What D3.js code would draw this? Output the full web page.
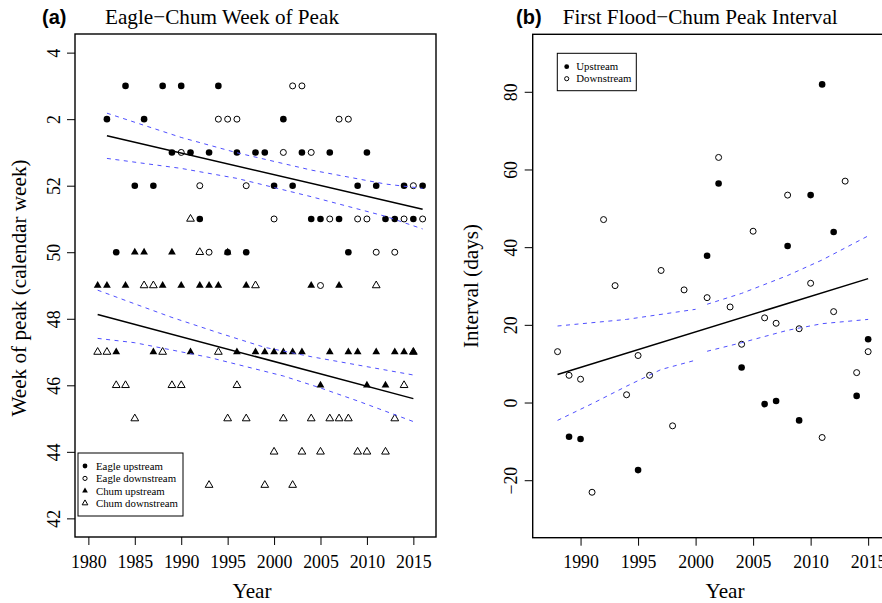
<!DOCTYPE html>
<html>
<head>
<meta charset="utf-8">
<script src="https://cdn.jsdelivr.net/npm/d3@7"></script>
<style>
  body { margin: 0; background: #fff; }
  svg { display: block; }
</style>
</head>
<body>
<div id="chart"></div>
<script>
// (a) week of peak, weeks after 52 run on as 53, 54, 55 (= week 1, 2, 3 of next year)
const eagleUpstream = [
  [1982,54],[1983,50],[1984,55],[1985,52],[1986,54],[1987,52],[1988,55],[1989,53],
  [1990,55],[1991,53],[1992,51],[1993,53],[1994,55],[1995,50],[1996,53],[1997,50],
  [1998,53],[1999,53],[2000,52],[2001,54],[2002,52],[2003,53],[2004,51],[2005,51],
  [2006,53],[2007,51],[2008,50],[2009,52],[2010,53],[2011,52],[2012,51],[2013,51],
  [2014,52],[2015,51],[2016,52]
];
const eagleDownstream = [
  [1990,53],[1992,52],[1993,50],[1994,54],[1995,54],[1996,54],[1997,52],[2000,51],
  [2001,53],[2002,55],[2003,55],[2004,53],[2005,49],[2006,51],[2007,54],[2008,54],
  [2009,51],[2010,51],[2011,50],[2013,50],[2014,51],[2015,52],[2016,51]
];
const chumUpstream = [
  [1981,49],[1982,49],[1983,47],[1984,49],[1985,50],[1986,50],[1987,47],[1988,49],
  [1989,50],[1990,49],[1991,47],[1992,49],[1993,49],[1994,49],[1995,50],[1996,47],
  [1997,49],[1998,47],[1999,47],[2000,47],[2001,47],[2002,47],[2003,47],[2004,49],
  [2005,46],[2006,47],[2007,49],[2008,47],[2009,47],[2010,46],[2011,47],[2012,46],
  [2013,47],[2014,47],[2015,47]
];
const chumDownstream = [
  [1981,47],[1982,47],[1983,46],[1984,46],[1985,45],[1986,49],[1987,49],[1988,47],
  [1989,46],[1990,46],[1991,51],[1992,50],[1993,43],[1994,47],[1995,45],[1996,46],
  [1997,45],[1998,49],[1999,43],[2000,44],[2001,45],[2002,43],[2003,44],[2004,45],
  [2005,44],[2006,45],[2007,45],[2008,45],[2009,44],[2010,44],[2011,49],[2012,44],
  [2013,45],[2014,46],[2015,47]
];
const eagleFit = [[1982,53.50],[2016,51.29]];
const eagleUpperCI = [[1982,54.18],[1990,53.45],[1996,52.99],[2004,52.47],[2012,52.05],[2016,51.92]];
const eagleLowerCI = [[1982,52.82],[1990,52.52],[1996,52.22],[2004,51.67],[2012,51.08],[2016,50.70]];
const chumFit = [[1981,48.13],[2015,45.60]];
const chumUpperCI = [[1981,48.86],[1984,48.55],[1989,48.04],[1994,47.58],[1999,47.14],[2004,46.86],[2009,46.61],[2015,46.31]];
const chumLowerCI = [[1981,47.41],[1985,47.28],[1989,47.06],[1993,46.84],[1997,46.56],[2001,46.28],[2005,45.92],[2009,45.53],[2015,44.91]];

const yearTicksA = [1980,1985,1990,1995,2000,2005,2010,2015];
const weekTicks = [42,44,46,48,50,52,54,56];
const weekTickLabels = ["42","44","46","48","50","52","2","4"];
const legendLabelsA = ["Eagle upstream","Eagle downstream","Chum upstream","Chum downstream"];

// (b) first flood to chum peak interval, days
const intervalUpstream = [
  [1989,-8.8],[1990,-9.4],[1995,-17.4],[2001,37.8],[2002,56.4],[2004,9.0],[2006,-0.4],
  [2007,0.4],[2008,40.3],[2009,-4.6],[2010,53.4],[2011,81.9],[2012,43.9],[2014,1.7],[2015,16.3]
];
const intervalDownstream = [
  [1988,13.1],[1989,7.0],[1990,6.0],[1991,-23.1],[1992,47.1],[1993,30.1],[1994,2.0],
  [1995,12.1],[1996,7.0],[1997,34.0],[1998,-6.0],[1999,29.0],[2001,27.0],[2002,63.1],
  [2003,24.6],[2004,15.0],[2005,44.1],[2006,21.8],[2007,20.4],[2008,53.4],[2009,19.0],
  [2010,30.7],[2011,-9.0],[2012,23.4],[2013,57.0],[2014,7.7],[2015,13.1]
];
const intervalFit = [[1988,7.2],[2015,31.9]];
const intervalUpperCI = [
  [[1988,19.7],[1994,21.4],[2000,24.0]],
  [[2001,25.3],[2004,28.1],[2008,32.7],[2011,36.7],[2015,42.9]]
];
const intervalLowerCI = [
  [[1988,-4.6],[1991,-0.3],[1994,4.2],[1997,8.5],[2000,10.9]],
  [[2001,13.2],[2004,15.4],[2008,18.6],[2011,20.3],[2015,21.4]]
];
const yearTicksB = [1990,1995,2000,2005,2010,2015];
const intervalTicks = [-20,0,20,40,60,80];
const legendLabelsB = ["Upstream","Downstream"];

const serif = '"Liberation Serif", "Times New Roman", serif';
const sans = '"Liberation Sans", Arial, sans-serif';
const tickFont = 17.8, labFont = 21.2;
const ciColor = "#4f4fff";

const svg = d3.select("#chart").append("svg")
  .attr("width", 882)
  .attr("height", 603);

const tri = d3.symbol().type(d3.symbolTriangle);

// draw one set of points
function drawPoints(g, data, x, y, shape, filled, sz) {
  if (shape === "circle") {
    g.selectAll(null).data(data).enter().append("circle")
      .attr("cx", d => x(d[0]))
      .attr("cy", d => y(d[1]))
      .attr("r", filled ? sz.r : sz.r - 0.3)
      .attr("fill", filled ? "#000" : "none")
      .attr("stroke", "#000")
      .attr("stroke-width", filled ? 0 : 1);
  } else {
    g.selectAll(null).data(data).enter().append("path")
      .attr("transform", d => `translate(${x(d[0])},${y(d[1])})`)
      .attr("d", tri.size(sz.t)())
      .attr("fill", filled ? "#000" : "none")
      .attr("stroke", "#000")
      .attr("stroke-width", filled ? 0 : 1);
  }
}

function drawLine(g, data, x, y, dashed) {
  const line = d3.line().x(d => x(d[0])).y(d => y(d[1]));
  g.append("path")
    .attr("d", line(data))
    .attr("fill", "none")
    .attr("stroke", dashed ? ciColor : "#000")
    .attr("stroke-width", dashed ? 1 : 1.5)
    .attr("stroke-dasharray", dashed ? "4,4.5" : null);
}

function axes(g, x, y, xTicks, yTicks, yFmt, bottom, left) {
  g.append("g")
    .attr("transform", `translate(0,${bottom})`)
    .call(d3.axisBottom(x).tickValues(xTicks).tickSize(8).tickFormat(d3.format("d")))
    .call(a => a.select(".domain").remove())
    .call(a => a.selectAll("text")
      .attr("y", 30.5).attr("dy", null)
      .style("font-family", serif)
      .style("font-size", tickFont + "px"));

  g.append("g")
    .attr("transform", `translate(${left},0)`)
    .call(d3.axisLeft(y).tickValues(yTicks).tickSize(8).tickFormat(yFmt))
    .call(a => a.select(".domain").remove())
    .call(a => a.selectAll("text")
      .attr("x", 0).attr("y", -15.5).attr("dy", null)
      .attr("text-anchor", "middle")
      .attr("transform", "rotate(-90)")
      .style("font-family", serif)
      .style("font-size", tickFont + "px"));
}

// ---------- panel (a) ----------
const xA = d3.scaleLinear().domain([1978.56, 2017.44]).range([75, 436]);
const yA = d3.scaleLinear().domain([41.44, 56.56]).range([537, 34]);
const gA = svg.append("g");

axes(gA, xA, yA, yearTicksA, weekTicks, (d, i) => weekTickLabels[i], 537, 75);

const ptSize = { r: 3.3, t: 26 };
drawPoints(gA, eagleUpstream, xA, yA, "circle", true, ptSize);
drawPoints(gA, eagleDownstream, xA, yA, "circle", false, ptSize);
drawPoints(gA, chumUpstream, xA, yA, "tri", true, ptSize);
drawPoints(gA, chumDownstream, xA, yA, "tri", false, ptSize);

drawLine(gA, eagleFit, xA, yA, false);
drawLine(gA, eagleUpperCI, xA, yA, true);
drawLine(gA, eagleLowerCI, xA, yA, true);
drawLine(gA, chumFit, xA, yA, false);
drawLine(gA, chumUpperCI, xA, yA, true);
drawLine(gA, chumLowerCI, xA, yA, true);

gA.append("rect")
  .attr("x", 75).attr("y", 34).attr("width", 436 - 75).attr("height", 537 - 34)
  .attr("fill", "none").attr("stroke", "#000").attr("stroke-width", 1.4);

// legend (a)
const legA = gA.append("g");
legA.append("rect")
  .attr("x", 78).attr("y", 453).attr("width", 105).attr("height", 63)
  .attr("fill", "#fff").attr("stroke", "#000").attr("stroke-width", 1);
const legShapesA = [["circle", true], ["circle", false], ["tri", true], ["tri", false]];
legendLabelsA.forEach((lab, i) => {
  const yy = 466 + i * 12.4;
  drawPoints(legA, [[0, 0]], () => 85, () => yy, legShapesA[i][0], legShapesA[i][1], { r: 2.4, t: 14 });
  legA.append("text")
    .attr("x", 96).attr("y", yy).attr("dy", "0.35em")
    .attr("font-family", serif).attr("font-size", 10.8)
    .text(lab);
});

gA.append("text")
  .attr("x", 42).attr("y", 24.3)
  .attr("font-family", sans).attr("font-weight", "bold").attr("font-size", 20)
  .text("(a)");
gA.append("text")
  .attr("x", 105).attr("y", 24.3)
  .attr("font-family", serif).attr("font-size", labFont)
  .text("Eagle\u2212Chum Week of Peak");
gA.append("text")
  .attr("x", 252).attr("y", 597.5).attr("text-anchor", "middle")
  .attr("font-family", serif).attr("font-size", labFont)
  .text("Year");
gA.append("text")
  .attr("transform", "translate(26,288) rotate(-90)")
  .attr("text-anchor", "middle")
  .attr("font-family", serif).attr("font-size", labFont)
  .text("Week of peak (calendar week)");

// ---------- panel (b) ----------
const xB = d3.scaleLinear().domain([1985.84, 2017.16]).range([532.7, 893]);
const yB = d3.scaleLinear().domain([-34.8, 94.8]).range([537.7, 34.3]);
const gB = svg.append("g");

axes(gB, xB, yB, yearTicksB, intervalTicks, d3.format("d"), 537.7, 532.7);

drawPoints(gB, intervalUpstream, xB, yB, "circle", true, ptSize);
drawPoints(gB, intervalDownstream, xB, yB, "circle", false, ptSize);

drawLine(gB, intervalFit, xB, yB, false);
intervalUpperCI.forEach(seg => drawLine(gB, seg, xB, yB, true));
intervalLowerCI.forEach(seg => drawLine(gB, seg, xB, yB, true));

gB.append("rect")
  .attr("x", 532.7).attr("y", 34.3).attr("width", 893 - 532.7).attr("height", 537.7 - 34.3)
  .attr("fill", "none").attr("stroke", "#000").attr("stroke-width", 1.4);

// legend (b)
const legB = gB.append("g");
legB.append("rect")
  .attr("x", 557.3).attr("y", 53.3).attr("width", 79).attr("height", 37.4)
  .attr("fill", "#fff").attr("stroke", "#000").attr("stroke-width", 1);
legendLabelsB.forEach((lab, i) => {
  const yy = 66.7 + i * 12;
  drawPoints(legB, [[0, 0]], () => 566.7, () => yy, "circle", i === 0, { r: 2.4, t: 14 });
  legB.append("text")
    .attr("x", 576.3).attr("y", yy).attr("dy", "0.35em")
    .attr("font-family", serif).attr("font-size", 10.8)
    .text(lab);
});

gB.append("text")
  .attr("x", 516).attr("y", 24.3)
  .attr("font-family", sans).attr("font-weight", "bold").attr("font-size", 20)
  .text("(b)");
gB.append("text")
  .attr("x", 562.7).attr("y", 24.3)
  .attr("font-family", serif).attr("font-size", labFont)
  .text("First Flood\u2212Chum Peak Interval");
gB.append("text")
  .attr("x", 725).attr("y", 598).attr("text-anchor", "middle")
  .attr("font-family", serif).attr("font-size", labFont)
  .text("Year");
gB.append("text")
  .attr("transform", "translate(478,286) rotate(-90)")
  .attr("text-anchor", "middle")
  .attr("font-family", serif).attr("font-size", labFont)
  .text("Interval (days)");
</script>
</body>
</html>
